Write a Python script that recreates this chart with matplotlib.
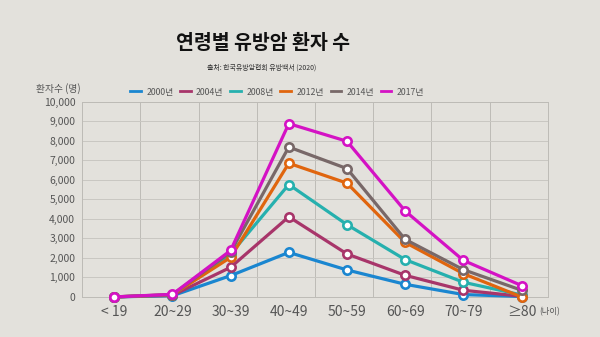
import matplotlib
matplotlib.use('Agg')
from matplotlib import pyplot as plt

plt.rcParams['font.family'] = ['Noto Sans CJK KR', 'DejaVu Sans']

# 연령대 / 연도별 환자 수
ages = ['< 19', '20~29', '30~39', '40~49', '50~59', '60~69', '70~79', '≥80']
years = ['2000년', '2004년', '2008년', '2012년', '2014년', '2017년']
v2000 = [0, 60, 1090, 2280, 1380, 645, 120, 20]
v2004 = [0, 80, 1515, 4105, 2200, 1105, 340, 30]
v2008 = [0, 100, 2200, 5760, 3700, 1910, 750, 100]
v2012 = [0, 110, 2025, 6850, 5830, 2790, 1190, 0]
v2014 = [0, 120, 2300, 7680, 6575, 2945, 1395, 340]
v2017 = [0, 130, 2380, 8880, 7975, 4400, 1870, 580]
series = [v2000, v2004, v2008, v2012, v2014, v2017]
colors = ['#1a86d0', '#a8356a', '#26b0ae', '#e0650e', '#786868', '#d412c4']

bg = '#e3e1dc'
fig = plt.figure(figsize=(6, 3.37), dpi=100, facecolor=bg)
ax = fig.add_axes([0.137, 0.119, 0.776, 0.579])
ax.set_facecolor(bg)

x = list(range(len(ages)))
for vals, c, lab in zip(series, colors, years):
    ax.plot(x, vals, '-o', color=c, lw=2.3, ms=6, mfc='white', mec=c, mew=1.9,
            label=lab, solid_joinstyle='round', clip_on=False, zorder=3)

ax.set_xlim(-0.55, 7.45)
ax.set_ylim(0, 10000)
ax.set_yticks(range(0, 10001, 1000))
ax.set_yticklabels(['{:,}'.format(v) for v in range(0, 10001, 1000)])
ax.set_xticks(x)
ax.set_xticklabels(ages)
ax.set_xticks([i - 0.55 for i in range(9)], minor=True)
ax.grid(True, axis='y', color='#c9c7c2', lw=0.7)
ax.grid(True, which='minor', axis='x', color='#bdbbb6', lw=0.7)
for s in ax.spines.values():
    s.set_color('#bdbbb6')
    s.set_linewidth(0.7)
ax.tick_params(which='both', length=0)
ax.tick_params(axis='y', labelsize=7.5, labelcolor='#555555', pad=5)
ax.tick_params(axis='x', labelsize=10, labelcolor='#555555', pad=6)

fig.text(0.438, 0.872, '연령별 유방암 환자 수', ha='center', va='center',
         fontsize=14, fontweight='heavy', color='#111111')
fig.text(0.436, 0.798, '출처: 한국유방암협회 유방백서 (2020)', ha='center', va='center',
         fontsize=5, color='#333333')
fig.text(0.098, 0.738, '환자수 (명)', ha='center', va='center', fontsize=7, color='#555555')
fig.text(0.898, 0.075, '(나이)', ha='left', va='center', fontsize=6, color='#555555')

handles = [plt.Line2D([0], [0], color=c, lw=2) for c in colors]
fig.legend(handles, years, loc='center', bbox_to_anchor=(0.462, 0.727), ncol=6,
           frameon=False, fontsize=6.3, handlelength=1.2, handletextpad=0.6,
           columnspacing=0.8, labelcolor='#555555')

fig.savefig('out.png', dpi=100, facecolor=bg)
